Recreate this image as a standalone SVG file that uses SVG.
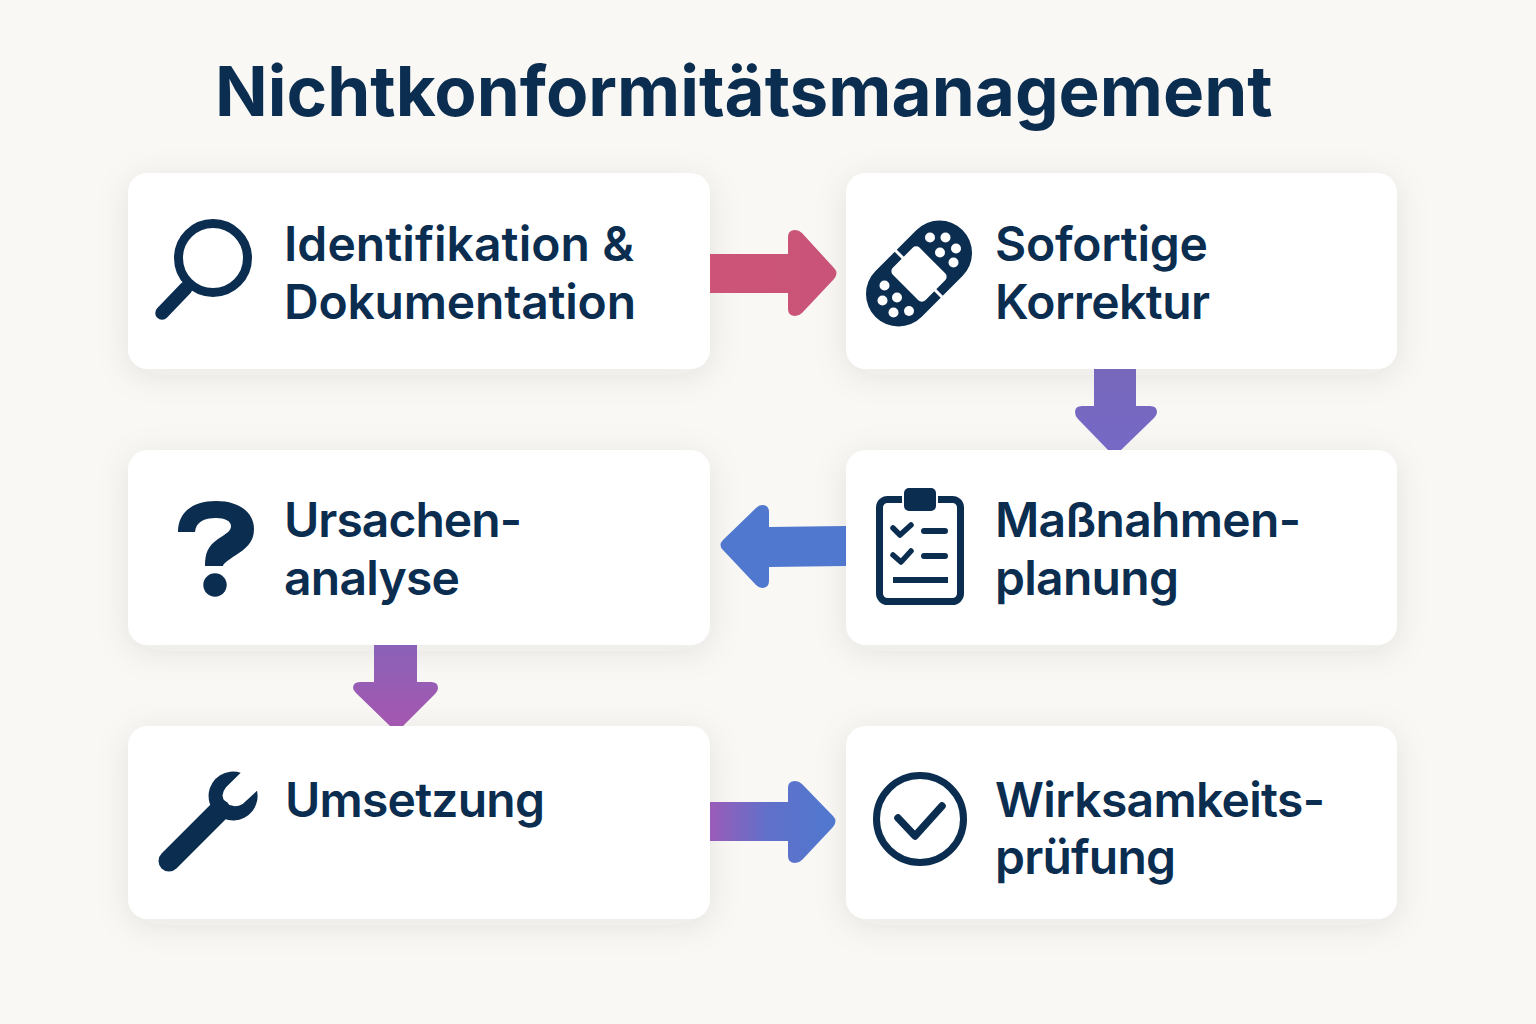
<svg xmlns="http://www.w3.org/2000/svg" width="1536" height="1024" viewBox="0 0 1536 1024">
<style>
.card{fill:#fff;filter:url(#sh)}
.lab{font-family:Inter,"Noto Sans","Liberation Sans",sans-serif;font-size:48px;font-weight:600;fill:#0b2d50}
.ttl{font-family:Inter,"Noto Sans","Liberation Sans",sans-serif;font-size:69.2px;font-weight:700;fill:#0b2d50}
.ink{fill:#0b2d50}
.ln{fill:none;stroke:#0b2d50;stroke-linecap:round;stroke-linejoin:round}
</style>
<defs>
<filter id="sh" x="-15%" y="-30%" width="130%" height="160%"><feDropShadow dx="0" dy="6" stdDeviation="16" flood-color="#3a3a30" flood-opacity="0.09"/></filter>
<linearGradient id="g1" gradientUnits="userSpaceOnUse" x1="710" y1="0" x2="836" y2="0"><stop offset="0" stop-color="#cd5478"/><stop offset="1" stop-color="#c95379"/></linearGradient>
<linearGradient id="g2" gradientUnits="userSpaceOnUse" x1="0" y1="369" x2="0" y2="450"><stop offset="0" stop-color="#7868bc"/><stop offset="1" stop-color="#7569c6"/></linearGradient>
<linearGradient id="g4" gradientUnits="userSpaceOnUse" x1="0" y1="645" x2="0" y2="726"><stop offset="0" stop-color="#8a62b8"/><stop offset="1" stop-color="#a557b0"/></linearGradient>
<linearGradient id="g5" gradientUnits="userSpaceOnUse" x1="710" y1="0" x2="836" y2="0"><stop offset="0" stop-color="#9a5cb8"/><stop offset="0.45" stop-color="#6170ca"/><stop offset="1" stop-color="#4f78cf"/></linearGradient>
</defs>
<rect width="1536" height="1024" fill="#f9f8f5"/>
<g id="cards-bg">
<rect class="card" x="128" y="173" width="582" height="196" rx="20"/>
<rect class="card" x="846" y="173" width="551" height="196" rx="20"/>
<rect class="card" x="128" y="450" width="582" height="195" rx="20"/>
<rect class="card" x="846" y="450" width="551" height="195" rx="20"/>
<rect class="card" x="128" y="726" width="582" height="193" rx="20"/>
<rect class="card" x="846" y="726" width="551" height="193" rx="20"/>
</g>
<g id="connectors">
<path fill="url(#g1)" d="M710 254H788V237Q788 230 795 230Q799 230 802 233L834 268Q839 273 834 279L802 313Q799 316 795 316Q788 316 788 309V293H710Z"/>
<path fill="url(#g2)" d="M1094 369H1136V406H1150Q1157 406 1157 412Q1157 415 1154 418L1121 450H1108L1078 419Q1075 416 1075 412Q1075 406 1082 406H1094Z"/>
<path fill="#5078cf" d="M846 526V566L769 567V581Q769 588 762 588Q759 588 756 585L723 550Q718 545 723 540L756 508Q759 505 762 505Q769 505 769 512V527Z"/>
<path fill="url(#g4)" d="M374 645H417V682H431Q438 682 438 688Q438 691 435 694L403 726H390L356 693Q353 690 353 688Q353 682 360 682H374Z"/>
<path fill="url(#g5)" d="M710 802H788V788Q788 781 795 781Q799 781 802 784L833 816Q838 821 833 827L802 860Q799 863 795 863Q788 863 788 856V841H710Z"/>
</g>
<text id="title" class="ttl" x="215" y="116">Nichtkonformitätsmanagement</text>
<g id="node-identifikation">
<circle class="ln" cx="213" cy="258" r="34.5" stroke-width="9"/>
<path class="ln" d="M186 288L162 313" stroke-width="13.5"/>
<text class="lab" x="284" y="261" textLength="350">Identifikation &amp;</text>
<text class="lab" x="284" y="319" textLength="352">Dokumentation</text>
</g>
<g id="node-korrektur">
<rect class="ink" x="-61.5" y="-32.5" width="123" height="65" rx="32.5" transform="translate(919 273.5) rotate(-45)"/>
<g transform="translate(919 274) rotate(-45)" fill="#fff">
<rect x="-19" y="-23" width="38" height="46" rx="5"/>
<rect x="-1.5" y="-34" width="3" height="68"/>
</g>
<g fill="#fff">
<circle cx="930" cy="237.5" r="5"/><circle cx="945.5" cy="237.5" r="5"/><circle cx="956" cy="248.5" r="5"/><circle cx="940" cy="252.5" r="5"/><circle cx="953.5" cy="262.5" r="5"/>
<circle cx="884.5" cy="285.5" r="5"/><circle cx="882.5" cy="300.5" r="5"/><circle cx="897" cy="297.5" r="5"/><circle cx="893.5" cy="312.5" r="5"/><circle cx="909" cy="311" r="5"/>
</g>
<text class="lab" x="995" y="261" textLength="213">Sofortige</text>
<text class="lab" x="995" y="319" textLength="215">Korrektur</text>
</g>
<g id="node-ursachen">
<path class="ink" d="M178 532C178 512 193 501 216 501C240 501 254 513 254 529C254 543 245 549 236 555C227 561 223 564 223 566H205C205 553 208 546 218 539C227 533 231 531 231 526C231 521 225 518 216 518C204 518 196 522 195 532Z"/>
<circle class="ink" cx="215" cy="585" r="11.7"/>
<text class="lab" x="284" y="537" textLength="238">Ursachen-</text>
<text class="lab" x="284" y="595" textLength="176">analyse</text>
</g>
<g id="node-massnahmen">
<rect x="879.5" y="499.5" width="81" height="102" rx="8" fill="none" stroke="#0b2d50" stroke-width="7"/>
<rect x="902" y="486" width="36" height="27" rx="6" fill="#fff"/>
<rect class="ink" x="904" y="488" width="32" height="23" rx="5"/>
<path class="ln" d="M893 528L900 535L911 525M893 555L901 562L911 551" stroke-width="5.5"/>
<path class="ln" d="M924 531H945M924 556H945" stroke-width="6"/>
<path class="ln" d="M893 580H948" stroke-width="6" style="stroke-linecap:butt"/>
<text class="lab" x="995" y="537" textLength="306">Maßnahmen-</text>
<text class="lab" x="995" y="595" textLength="184">planung</text>
</g>
<g id="node-umsetzung">
<path class="ln" d="M169 861L220 810" stroke-width="21"/>
<path class="ink" d="M240.7 772.7A24.5 24.5 0 1 0 257 790.7L242.7 804Q234 809 226 803Q219 796 226 787.3Z"/>
<text class="lab" x="285" y="817" textLength="260">Umsetzung</text>
</g>
<g id="node-wirksamkeit">
<circle class="ln" cx="920" cy="819" r="43.5" stroke-width="7"/>
<path class="ln" d="M898 818L915 836L942 806" stroke-width="7.5"/>
<text class="lab" x="995" y="817" textLength="330">Wirksamkeits-</text>
<text class="lab" x="995" y="874" textLength="181">prüfung</text>
</g>
</svg>
